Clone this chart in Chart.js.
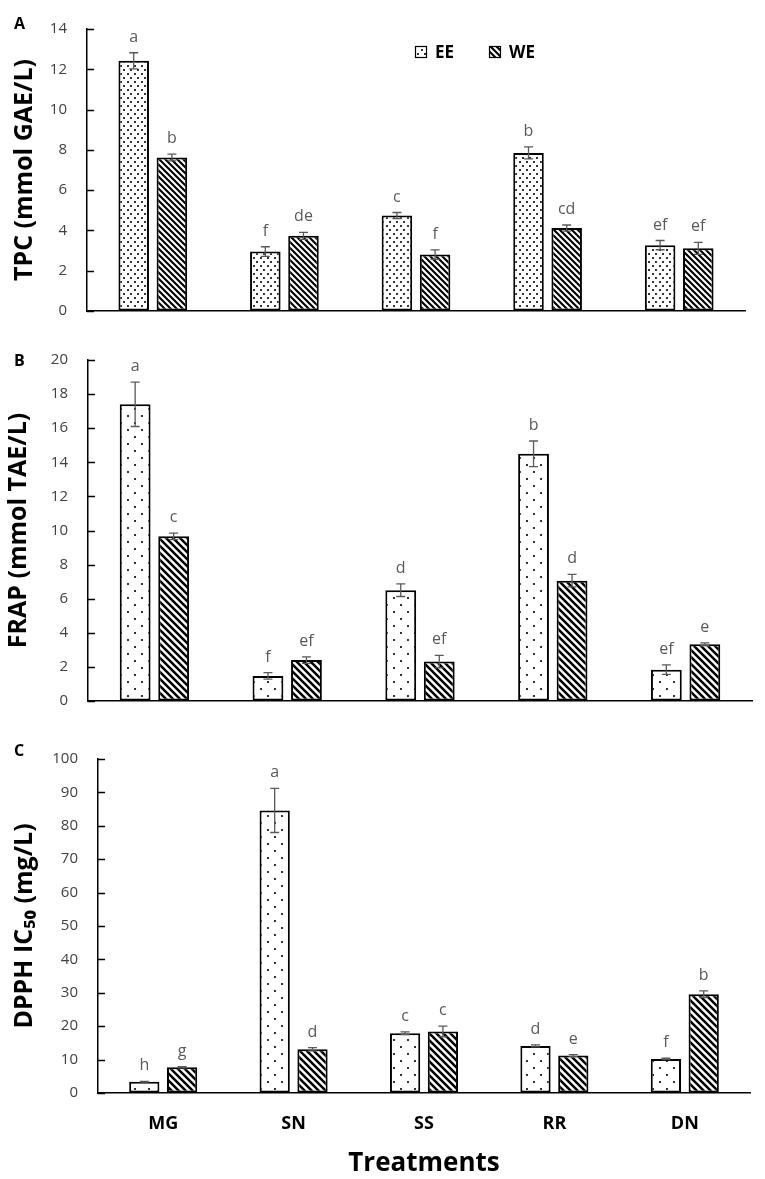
<!DOCTYPE html>
<html>
<head>
<meta charset="utf-8">
<script src="https://cdn.jsdelivr.net/npm/chart.js@4.4.0/dist/chart.umd.min.js"></script>
<style>
  body { margin: 0; background: #fff; width: 765px; height: 1179px; position: relative; overflow: hidden; }
  canvas { position: absolute; left: 0; }
  .tag { position: absolute; left: 14px; font: bold 16px "Open Sans", sans-serif; line-height: 16px; color: #000; }
</style>
</head>
<body>
<canvas id="chartA" width="765" height="340" style="top:0px"></canvas>
<canvas id="chartB" width="765" height="400" style="top:330px"></canvas>
<canvas id="chartC" width="765" height="449" style="top:730px"></canvas>
<div class="tag" style="top:15px">A</div>
<div class="tag" style="top:352px">B</div>
<div class="tag" style="top:742px">C</div>
<script>
// categories and series
var treatments = ['MG', 'SN', 'SS', 'RR', 'DN'];
var seriesNames = ['EE', 'WE'];

// A - TPC
var tpcEE = [12.42, 2.95, 4.74, 7.85, 3.27];
var tpcWE = [7.62, 3.73, 2.80, 4.12, 3.11];
var tpcErrEE = [0.40, 0.24, 0.15, 0.30, 0.23];
var tpcErrWE = [0.17, 0.17, 0.23, 0.15, 0.30];
var tpcLetEE = ['a', 'f', 'c', 'b', 'ef'];
var tpcLetWE = ['b', 'de', 'f', 'cd', 'ef'];

// B - FRAP
var frapEE = [17.40, 1.47, 6.50, 14.50, 1.84];
var frapWE = [9.66, 2.40, 2.31, 7.06, 3.33];
var frapErrEE = [1.30, 0.19, 0.37, 0.75, 0.28];
var frapErrWE = [0.19, 0.19, 0.37, 0.37, 0.08];
var frapLetEE = ['a', 'f', 'd', 'b', 'ef'];
var frapLetWE = ['c', 'ef', 'ef', 'd', 'e'];

// C - DPPH IC50
var dpphEE = [3.4, 84.6, 17.9, 14.1, 10.2];
var dpphWE = [7.7, 13.1, 18.4, 11.2, 29.6];
var dpphErrEE = [0.1, 6.6, 0.4, 0.3, 0.2];
var dpphErrWE = [0.2, 0.5, 1.6, 0.3, 1.0];
var dpphLetEE = ['h', 'a', 'c', 'd', 'f'];
var dpphLetWE = ['g', 'd', 'c', 'e', 'b'];

Chart.defaults.font.family = '"Open Sans", sans-serif';

function dotPattern(w, h) {
    var c = document.createElement('canvas');
    c.width = w; c.height = h;
    var g = c.getContext('2d');
    g.fillStyle = '#fff';
    g.fillRect(0, 0, w, h);
    g.fillStyle = '#333';
    g.fillRect(1, 1, 2, 2);
    g.fillRect(1 + Math.floor(w / 2), 1 + Math.floor(h / 2), 2, 2);
    return g.createPattern(c, 'repeat');
}

function hatchPattern(s, lw) {
    var c = document.createElement('canvas');
    c.width = s; c.height = s;
    var g = c.getContext('2d');
    g.fillStyle = '#fff';
    g.fillRect(0, 0, s, s);
    g.strokeStyle = '#000';
    g.lineWidth = lw;
    g.beginPath();
    [-s, 0, s].forEach(function (k) {
        g.moveTo(k - 1, -1);
        g.lineTo(k + s + 1, s + 1);
    });
    g.stroke();
    return g.createPattern(c, 'repeat');
}

// error bars + significance letters
var errorBars = {
    id: 'errorBars',
    afterDatasetsDraw: function (chart) {
        var ctx = chart.ctx, y = chart.scales.y;
        chart.data.datasets.forEach(function (ds, i) {
            chart.getDatasetMeta(i).data.forEach(function (bar, j) {
                var v = ds.data[j], e = ds.errors[j];
                var top = y.getPixelForValue(v + e), bot = y.getPixelForValue(Math.max(v - e, 0));
                ctx.save();
                ctx.strokeStyle = '#595959';
                ctx.lineWidth = 1.3;
                ctx.beginPath();
                ctx.moveTo(bar.x, top); ctx.lineTo(bar.x, bot);
                ctx.moveTo(bar.x - 4.5, top); ctx.lineTo(bar.x + 4.5, top);
                ctx.moveTo(bar.x - 4.5, bot); ctx.lineTo(bar.x + 4.5, bot);
                ctx.stroke();
                ctx.fillStyle = '#595959';
                ctx.font = '16px "Open Sans", sans-serif';
                ctx.textAlign = 'center';
                ctx.textBaseline = 'alphabetic';
                ctx.fillText(ds.letters[j], bar.x, top - 11);
                ctx.restore();
            });
        });
    }
};

// Excel style inside tick marks on the value axis
var insideTicks = {
    id: 'insideTicks',
    afterDraw: function (chart) {
        var ctx = chart.ctx, y = chart.scales.y, left = chart.chartArea.left;
        ctx.save();
        ctx.strokeStyle = '#000';
        ctx.lineWidth = 1.3;
        ctx.beginPath();
        y.ticks.forEach(function (t) {
            var py = Math.round(y.getPixelForValue(t.value)) + 0.5;
            ctx.moveTo(left, py);
            ctx.lineTo(left + 7, py);
        });
        ctx.stroke();
        ctx.restore();
    }
};

var patternLegend = {
    id: 'patternLegend',
    afterDraw: function (chart, args, opts) {
        if (!opts.show) return;
        var ctx = chart.ctx, a = chart.chartArea;
        var x = a.left + 328, y = 46;
        ctx.save();
        chart.data.datasets.forEach(function (ds, i) {
            ctx.fillStyle = ds.backgroundColor;
            ctx.fillRect(x, y, 12, 12);
            ctx.strokeStyle = '#000';
            ctx.lineWidth = 1.2;
            ctx.strokeRect(x + 0.5, y + 0.5, 11, 11);
            ctx.fillStyle = '#000';
            ctx.font = 'bold 17px "Open Sans", sans-serif';
            ctx.textBaseline = 'middle';
            ctx.textAlign = 'left';
            ctx.fillText(ds.label, x + 20, y + 7);
            x += 74;
        });
        ctx.restore();
    }
};

function makeChart(id, ee, we, errEE, errWE, letEE, letWE, o) {
    var ctx = document.getElementById(id).getContext('2d');
    return new Chart(ctx, {
        type: 'bar',
        data: {
            labels: treatments,
            datasets: [{
                label: seriesNames[0],
                data: ee,
                errors: errEE,
                letters: letEE,
                backgroundColor: o.dots,
                borderColor: '#000',
                borderWidth: 2,
                borderSkipped: false
            }, {
                label: seriesNames[1],
                data: we,
                errors: errWE,
                letters: letWE,
                backgroundColor: o.hatch,
                borderColor: '#000',
                borderWidth: 2,
                borderSkipped: false
            }]
        },
        options: {
            responsive: false,
            animation: false,
            devicePixelRatio: 1,
            categoryPercentage: 0.58,
            barPercentage: 0.8,
            layout: { padding: { top: o.padTop, right: o.padRight, left: 0, bottom: 0 } },
            plugins: {
                legend: { display: false },
                tooltip: { enabled: false },
                patternLegend: { show: !!o.legend }
            },
            scales: {
                x: {
                    afterFit: function (s) { s.height = o.xHeight; },
                    grid: { display: true, drawOnChartArea: false, drawTicks: false },
                    border: { display: true, color: '#000', width: 1.5 },
                    ticks: {
                        display: !!o.xLabels,
                        color: '#000',
                        padding: 20,
                        font: { size: 18, weight: 'bold' }
                    },
                    title: {
                        display: !!o.xLabels,
                        text: 'Treatments',
                        color: '#000',
                        padding: { top: 0, bottom: 0 },
                        font: { size: 26, weight: 'bold', lineHeight: 1.2 }
                    }
                },
                y: {
                    min: 0,
                    max: o.yMax,
                    afterFit: function (s) { s.width = o.yWidth; },
                    grid: { display: true, drawOnChartArea: false, drawTicks: false },
                    border: { display: true, color: '#000', width: 1.5 },
                    ticks: {
                        stepSize: o.yStep,
                        color: '#404040',
                        padding: 20,
                        font: { size: 15 }
                    },
                    title: {
                        display: true,
                        text: o.yTitle,
                        color: '#000',
                        padding: { top: o.titlePad, bottom: 0 },
                        font: { size: 25, weight: 'bold', lineHeight: 1.2 }
                    }
                }
            }
        },
        plugins: [errorBars, insideTicks, patternLegend]
    });
}

makeChart('chartA', tpcEE, tpcWE, tpcErrEE, tpcErrWE, tpcLetEE, tpcLetWE, {
    dots: dotPattern(7, 8), hatch: hatchPattern(6, 2.1),
    padTop: 21, padRight: 20, xHeight: 19, yWidth: 87, yMax: 14, yStep: 2,
    yTitle: 'TPC (mmol GAE/L)', titlePad: 10, legend: true
});

makeChart('chartB', frapEE, frapWE, frapErrEE, frapErrWE, frapLetEE, frapLetWE, {
    dots: dotPattern(14, 14), hatch: hatchPattern(7, 2.5),
    padTop: 30, padRight: 13, xHeight: 12, yWidth: 88, yMax: 20, yStep: 2,
    yTitle: 'FRAP (mmol TAE/L)', titlePad: 4
});

makeChart('chartC', dpphEE, dpphWE, dpphErrEE, dpphErrWE, dpphLetEE, dpphLetWE, {
    dots: dotPattern(14, 14), hatch: hatchPattern(7, 2.5),
    padTop: 24, padRight: 15, xHeight: 86, yWidth: 98, yMax: 100, yStep: 10,
    yTitle: 'DPPH IC\u2085\u2080 (mg/L)', titlePad: 10, xLabels: true
});
</script>
</body>
</html>
